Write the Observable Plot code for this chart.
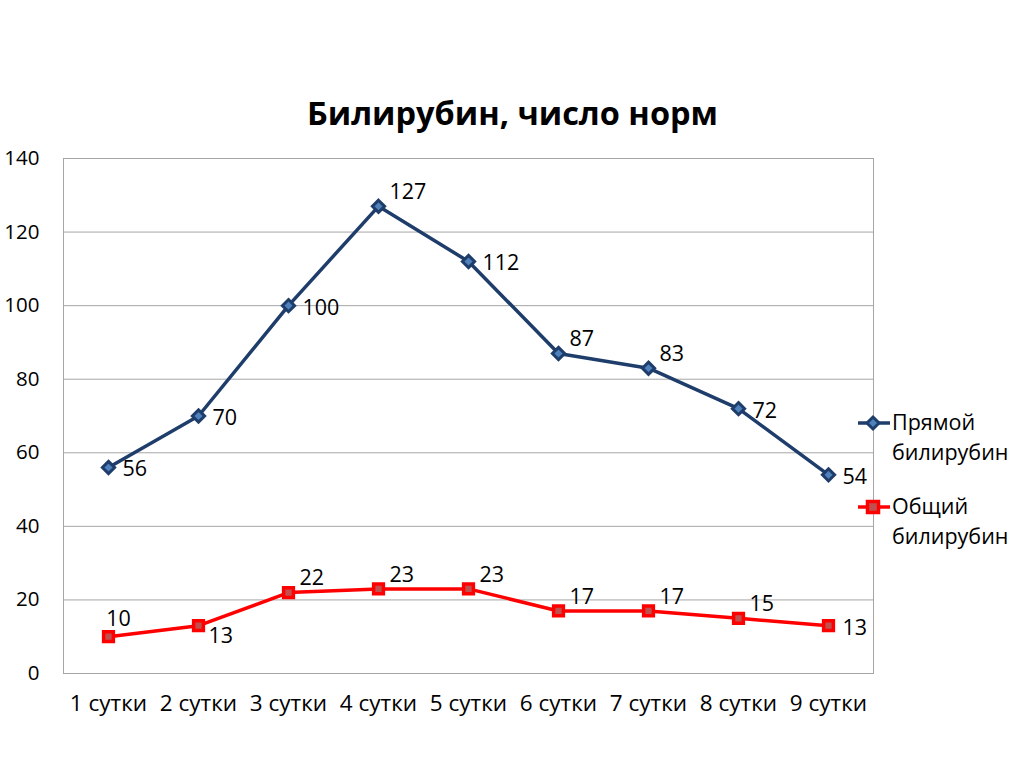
<!DOCTYPE html>
<html>
<head>
<meta charset="utf-8">
<script src="https://cdn.jsdelivr.net/npm/d3@7"></script>
<script src="https://cdn.jsdelivr.net/npm/@observablehq/plot@0.6"></script>
<style>
  html, body { margin: 0; padding: 0; background: #fff; }
  #wrap { position: relative; width: 1024px; height: 767px; overflow: hidden; font-family: "Open Sans", sans-serif; }
  #legend { position: absolute; left: 856px; top: 407px; font-size: 21.5px; color: #000; line-height: 30px; }
  .item { display: flex; align-items: flex-start; margin-bottom: 24px; }
  .item svg { flex: none; margin-top: 3px; }
</style>
</head>
<body>
<div id="wrap"></div>
<script>
const days = ["1 сутки","2 сутки","3 сутки","4 сутки","5 сутки","6 сутки","7 сутки","8 сутки","9 сутки"];
const directBili = [56, 70, 100, 127, 112, 87, 83, 72, 54];
const totalBili = [10, 13, 22, 23, 23, 17, 17, 15, 13];
const seriesNames = ["Прямой билирубин", "Общий билирубин"];
const yTicks = [0, 20, 40, 60, 80, 100, 120, 140];
const titleText = "Билирубин, число норм";
// label placement codes: r = right, ur = upper right, a = above, dr = lower right
const directLabelPos = ["r","r","r","ur","r","ur","ur","r","r"];
const totalLabelPos = ["a","dr","ur","ur","ur","ur","ur","ur","r"];

const blue = "#1F3D6B", blueFill = "#4F81BD";
const red = "#FF0000", redFill = "#C0504D";

const direct = days.map((d, i) => ({day: d, value: directBili[i], pos: directLabelPos[i]}));
const total = days.map((d, i) => ({day: d, value: totalBili[i], pos: totalLabelPos[i]}));

const placements = {
  r:  {textAnchor: "start", dx: 14, dy: 2},
  ur: {textAnchor: "start", dx: 11, dy: -14},
  a:  {textAnchor: "middle", dx: 10, dy: -18},
  dr: {textAnchor: "start", dx: 10, dy: 10}
};
function labels(data) {
  return Object.entries(placements).map(([k, p]) =>
    Plot.text(data.filter(d => d.pos === k), {x: "day", y: "value", text: d => String(d.value),
      fontSize: 21.5, fill: "#000", ...p}));
}

const chart = Plot.plot({
  width: 1024,
  height: 767,
  marginLeft: 63,
  marginRight: 151,
  marginTop: 158,
  marginBottom: 94,
  style: {fontFamily: "'Open Sans', sans-serif", fontSize: "20px", color: "#000", background: "#fff"},
  x: {type: "point", domain: days, padding: 0.5, label: null, tickSize: 0, tickPadding: 22},
  y: {domain: [0, 140], ticks: yTicks, label: null, tickSize: 0, tickPadding: 24},
  marks: [
    Plot.gridY(yTicks, {stroke: "#A6A6A6", strokeOpacity: 1, strokeWidth: 1}),
    Plot.frame({stroke: "#A6A6A6"}),
    Plot.axisX({tickSize: 0, tickPadding: 22, fontSize: 22.5}),
    Plot.axisY({ticks: yTicks, tickSize: 0, tickPadding: 24, fontSize: 20.5}),
    Plot.text([titleText], {frameAnchor: "top", dx: 44, dy: -57, fontSize: 32.5, fontWeight: "bold", fill: "#000"}),
    Plot.line(direct, {x: "day", y: "value", stroke: blue, strokeWidth: 3.5}),
    Plot.dot(direct, {x: "day", y: "value", symbol: "diamond2", r: 5.5, stroke: blue, strokeWidth: 3, fill: blueFill}),
    Plot.line(total, {x: "day", y: "value", stroke: red, strokeWidth: 3.5}),
    Plot.dot(total, {x: "day", y: "value", symbol: "square", r: 5.5, stroke: red, strokeWidth: 3.5, fill: redFill}),
    ...labels(direct),
    ...labels(total)
  ]
});
const wrap = document.getElementById("wrap");
wrap.appendChild(chart);

const legend = document.createElement("div");
legend.id = "legend";
const items = [
  {name: seriesNames[0], stroke: blue, fill: blueFill, shape: "diamond"},
  {name: seriesNames[1], stroke: red, fill: redFill, shape: "square"}
];
for (const it of items) {
  const row = document.createElement("div");
  row.className = "item";
  const marker = it.shape === "diamond"
    ? `<polygon points="17,7 23,13 17,19 11,13" fill="${it.fill}" stroke="${it.stroke}" stroke-width="3"/>`
    : `<rect x="11.5" y="7.5" width="11" height="11" fill="${it.fill}" stroke="${it.stroke}" stroke-width="3.5"/>`;
  row.innerHTML = `<svg width="36" height="26"><line x1="2" y1="13" x2="34" y2="13" stroke="${it.stroke}" stroke-width="3.5"/>${marker}</svg><div>${it.name.replace(" ", "<br>")}</div>`;
  legend.appendChild(row);
}
wrap.appendChild(legend);
</script>
</body>
</html>
